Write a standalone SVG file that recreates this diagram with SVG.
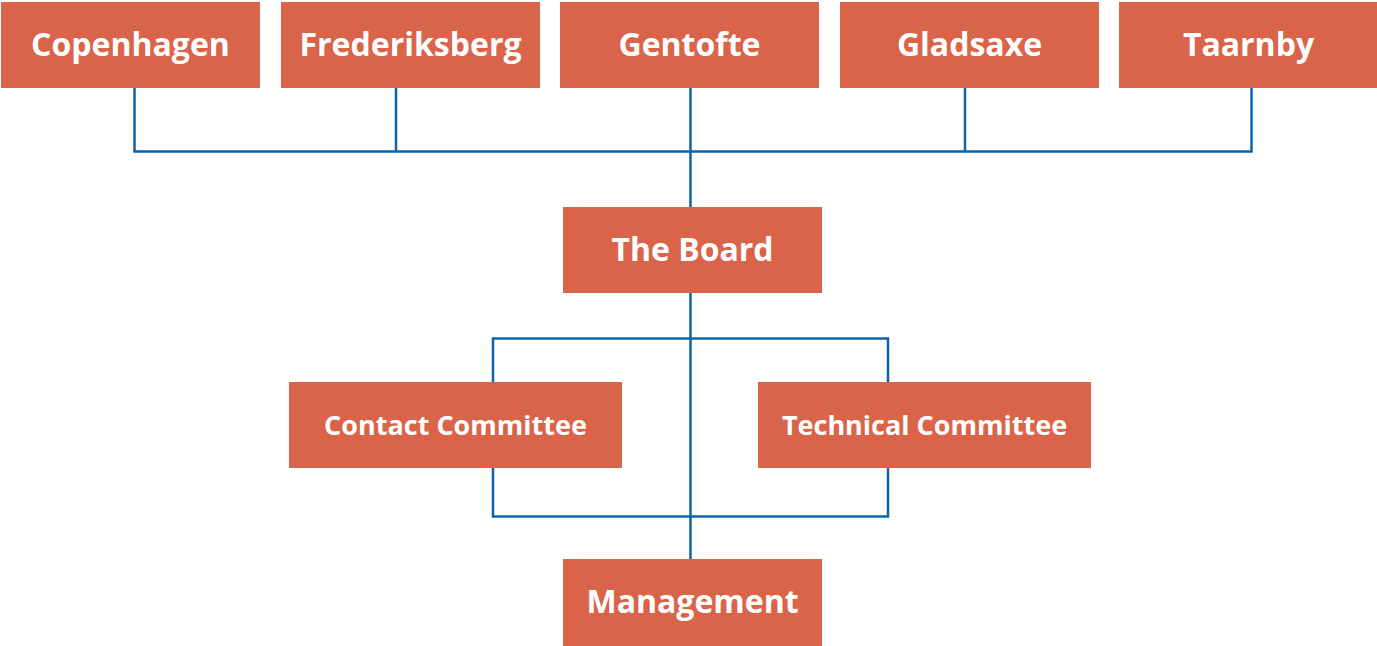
<svg xmlns="http://www.w3.org/2000/svg" width="1377" height="646" viewBox="0 0 1377 646">
<style>
.box{fill:#DA644A}
.t{font-family:"Open Sans","DejaVu Sans",sans-serif;font-weight:bold;fill:#FFFFFF;text-anchor:middle}
.big{font-size:32px}
.small{font-size:27px}
.c{fill:none;stroke:#0B63AE;stroke-width:2.5}
</style>
<rect width="1377" height="646" fill="#FFFFFF"/>
<g id="connectors">
<path class="c" d="M134.5 88 V151.5 H1251.5 V88"/>
<path class="c" d="M396 88 V151.5"/>
<path class="c" d="M965 88 V151.5"/>
<path class="c" d="M690.5 88 V207"/>
<path class="c" d="M690.5 293 V559"/>
<path class="c" d="M493 382 V338.5 H888 V382"/>
<path class="c" d="M493 468 V516.5 H888 V468"/>
</g>
<g id="copenhagen"><rect class="box" x="1" y="2" width="259" height="86"/><text class="t big" x="130.5" y="56">Copenhagen</text></g>
<g id="frederiksberg"><rect class="box" x="281" y="2" width="259" height="86"/><text class="t big" x="410.5" y="56">Frederiksberg</text></g>
<g id="gentofte"><rect class="box" x="560" y="2" width="259" height="86"/><text class="t big" x="689.5" y="56">Gentofte</text></g>
<g id="gladsaxe"><rect class="box" x="840" y="2" width="259" height="86"/><text class="t big" x="969.5" y="56">Gladsaxe</text></g>
<g id="taarnby"><rect class="box" x="1119" y="2" width="259" height="86"/><text class="t big" x="1248.5" y="56">Taarnby</text></g>
<g id="board"><rect class="box" x="563" y="207" width="259" height="86"/><text class="t big" x="692.5" y="261">The Board</text></g>
<g id="contact"><rect class="box" x="289" y="382" width="333" height="86"/><text class="t small" x="455.5" y="435">Contact Committee</text></g>
<g id="technical"><rect class="box" x="758" y="382" width="333" height="86"/><text class="t small" x="924.5" y="435">Technical Committee</text></g>
<g id="management"><rect class="box" x="563" y="559" width="259" height="87"/><text class="t big" x="692.5" y="613">Management</text></g>
</svg>
